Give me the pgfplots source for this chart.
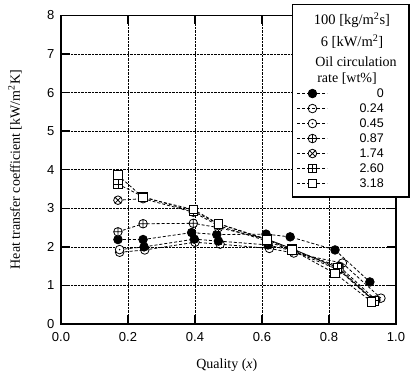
\documentclass[border=0pt]{standalone}
\usepackage{fontspec}
\setmainfont{Liberation Serif}
\setsansfont{Liberation Sans}
\usepackage{pgfplots}
\pgfplotsset{compat=1.18}
\usetikzlibrary{plotmarks}

\pgfdeclareplotmark{odot*}{%
 \pgfpathcircle{\pgfpointorigin}{\pgfplotmarksize}\pgfusepathqfillstroke
 \pgfsetfillcolor{black}%
 \pgfpathcircle{\pgfpointorigin}{0.2\pgfplotmarksize}\pgfusepathqfill}
\pgfdeclareplotmark{boxplus*}{%
 \pgfpathrectanglecorners{\pgfqpoint{-\pgfplotmarksize}{-\pgfplotmarksize}}{\pgfqpoint{\pgfplotmarksize}{\pgfplotmarksize}}\pgfusepathqfillstroke
 \pgfpathmoveto{\pgfqpoint{-\pgfplotmarksize}{0pt}}\pgfpathlineto{\pgfqpoint{\pgfplotmarksize}{0pt}}%
 \pgfpathmoveto{\pgfqpoint{0pt}{-\pgfplotmarksize}}\pgfpathlineto{\pgfqpoint{0pt}{\pgfplotmarksize}}\pgfusepathqstroke}

\begin{document}
\begin{tikzpicture}
\begin{axis}[
  scale only axis,
  width=335pt, height=308.5pt,
  xmin=0, xmax=1, ymin=0, ymax=8,
  xtick={0,0.2,...,1.0}, ytick={0,1,...,8},
  xticklabels={0.0,0.2,0.4,0.6,0.8,1.0},
  grid=major,
  major grid style={densely dotted, black, line width=0.6pt},
  axis line style={line width=1.2pt},
  tick align=inside, tick pos=both,
  major tick length=9pt,
  tick style={line width=1.4pt, black},
  /pgf/number format/assume math mode=true,
  ticklabel style={font=\sffamily\fontsize{13}{15}\selectfont},
  xticklabel style={yshift=-5pt},
  yticklabel style={xshift=-3pt},
  xlabel={Quality (\textit{x})},
  ylabel={Heat transfer coefficient [kW/m\textsuperscript{2}K]},
  every axis x label/.style={at={([yshift=-41pt]axis description cs:0.495,0)}, anchor=center, font=\fontsize{14}{16}\selectfont},
  every axis y label/.style={at={([xshift=-46pt]axis description cs:0,0.5)}, rotate=90, anchor=center, font=\fontsize{14}{16}\selectfont},
  clip=false,
  every axis plot/.append style={densely dashed, line width=0.8pt, black, mark size=4.3pt, mark options={solid, fill=white, line width=0.8pt}},
  legend image code/.code={\draw[mark repeat=2,mark phase=2,#1] plot coordinates {(0pt,0pt) (15pt,0pt) (30pt,0pt)};},
  legend style={at={(0.704,0.772)}, anchor=north west, draw=none, fill=none, inner sep=0pt,
    font=\sffamily\fontsize{12.5}{14}\selectfont, row sep=0pt, column sep=0pt,
    nodes={inner xsep=0pt, inner ysep=2pt, text height=9pt, text depth=2pt}},
]
% legend box
\draw[line width=0.8pt, fill=white] ([shift={(231pt,127pt)}]rel axis cs:0,0) rectangle ([shift={(348pt,320pt)}]rel axis cs:0,0);
\draw[line width=2pt] ([shift={(348pt,320pt)}]rel axis cs:0,0) -- ([shift={(348pt,127pt)}]rel axis cs:0,0) -- ([shift={(231pt,127pt)}]rel axis cs:0,0);
\node[font=\fontsize{14.5}{16}\selectfont] at ([shift={(291pt,304pt)}]rel axis cs:0,0) {100 [kg/m\textsuperscript{2}s]};
\node[font=\fontsize{14.5}{16}\selectfont] at ([shift={(291pt,282pt)}]rel axis cs:0,0) {6 [kW/m\textsuperscript{2}]};
\node[font=\fontsize{14}{16}\selectfont] at ([shift={(295pt,262pt)}]rel axis cs:0,0) {Oil circulation};
\node[font=\fontsize{14}{16}\selectfont] at ([shift={(286pt,245pt)}]rel axis cs:0,0) {rate [wt\%]};

\addplot[mark=*, mark options={solid, fill=black}] coordinates {(0.170,2.19) (0.245,2.19) (0.390,2.37) (0.465,2.32) (0.612,2.33) (0.684,2.26) (0.818,1.92) (0.922,1.09)};
\addlegendentry{\makebox[56pt][r]{0}}
\addplot[mark=o, mark options={solid, fill=white}] coordinates {(0.175,1.86) (0.250,1.92) (0.400,2.12) (0.475,2.07) (0.622,1.96) (0.695,1.84) (0.840,1.58) (0.955,0.67)};
\addlegendentry{\makebox[56pt][r]{0.24}}
\addplot[mark=odot*] coordinates {(0.175,1.93) (0.248,2.00) (0.398,2.20) (0.470,2.15) (0.618,2.05) (0.690,1.90) (0.830,1.50) (0.940,0.62)};
\addlegendentry{\makebox[56pt][r]{0.45}}
\addplot[mark=oplus*] coordinates {(0.170,2.39) (0.245,2.60) (0.395,2.61) (0.470,2.50) (0.615,2.20) (0.690,1.95) (0.830,1.45) (0.935,0.60)};
\addlegendentry{\makebox[56pt][r]{0.87}}
\addplot[mark=otimes*] coordinates {(0.170,3.21) (0.245,3.25) (0.395,2.90) (0.470,2.55) (0.615,2.15) (0.690,1.90) (0.830,1.40) (0.935,0.58)};
\addlegendentry{\makebox[56pt][r]{1.74}}
\addplot[mark=boxplus*] coordinates {(0.170,3.63) (0.245,3.30) (0.395,2.92) (0.470,2.60) (0.615,2.20) (0.690,1.95) (0.825,1.45) (0.935,0.60)};
\addlegendentry{\makebox[56pt][r]{2.60}}
\addplot[mark=square*] coordinates {(0.170,3.86) (0.245,3.28) (0.395,2.97) (0.470,2.60) (0.615,2.18) (0.690,1.92) (0.818,1.31) (0.927,0.58)};
\addlegendentry{\makebox[56pt][r]{3.18}}
\end{axis}
\pgfresetboundingbox
\path (-61pt,-55pt) rectangle (351pt,324pt);
\end{tikzpicture}
\end{document}
